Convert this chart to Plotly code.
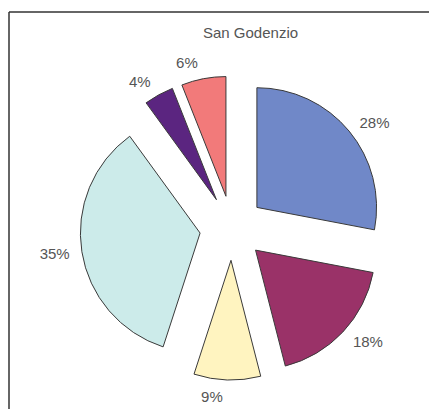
import plotly.graph_objects as go

title = "San Godenzio"
categories = ["A", "B", "C", "D", "E", "F"]
values = [28, 18, 9, 35, 4, 6]
colors = ["#7088C8", "#9A3268", "#FFF4C0", "#CCEBEA", "#5B2580", "#F27A7A"]

W, H = 429, 409
FONT = "Liberation Sans, Arial, sans-serif"

fig = go.Figure()
# visible exploded pie
fig.add_trace(go.Pie(
    labels=categories,
    values=values,
    sort=False,
    direction="clockwise",
    rotation=0,
    pull=[0.27] * len(values),
    marker=dict(colors=colors, line=dict(color="#3a3a3a", width=1)),
    textinfo="none",
    domain=dict(x=[80 / W, 384 / W], y=[1 - 380 / H, 1 - 76 / H]),
    showlegend=False,
    hoverinfo="skip",
    automargin=False,
))
# transparent, slightly larger pie carrying the percentage labels a bit further out
fig.add_trace(go.Pie(
    labels=categories,
    values=values,
    sort=False,
    direction="clockwise",
    rotation=0,
    pull=[0.27] * len(values),
    marker=dict(colors=["rgba(0,0,0,0)"] * len(values), line=dict(width=0)),
    textinfo="percent",
    texttemplate="%{percent:.0%}",
    textposition="outside",
    outsidetextfont=dict(family=FONT, size=15, color="#555555"),
    domain=dict(x=[72 / W, 392 / W], y=[1 - 388 / H, 1 - 68 / H]),
    showlegend=False,
    hoverinfo="skip",
    automargin=False,
))

fig.add_annotation(
    text=title, x=250 / W, y=1 - 32 / H, xref="paper", yref="paper",
    xanchor="center", yanchor="middle",
    showarrow=False, font=dict(family=FONT, size=15, color="#555555"),
)

# frame (top and left edges visible)
fig.add_shape(type="line", xref="paper", yref="paper", x0=9 / W, x1=1.0, y0=1 - 12 / H, y1=1 - 12 / H,
              line=dict(color="#333333", width=1.5))
fig.add_shape(type="line", xref="paper", yref="paper", x0=9 / W, x1=9 / W, y0=1 - 12 / H, y1=0,
              line=dict(color="#333333", width=1.5))

fig.update_layout(
    width=W, height=H,
    autosize=False,
    margin=dict(l=0, r=0, t=0, b=0, pad=0, autoexpand=False),
    paper_bgcolor="white",
    plot_bgcolor="white",
)

fig.write_html(
    "out.html",
    config={"responsive": False, "displayModeBar": False},
    post_script="document.documentElement.style.margin='0';document.body.style.margin='0';"
                "document.body.style.padding='0';document.body.style.overflow='hidden';"
                "document.documentElement.style.overflow='hidden';",
)
